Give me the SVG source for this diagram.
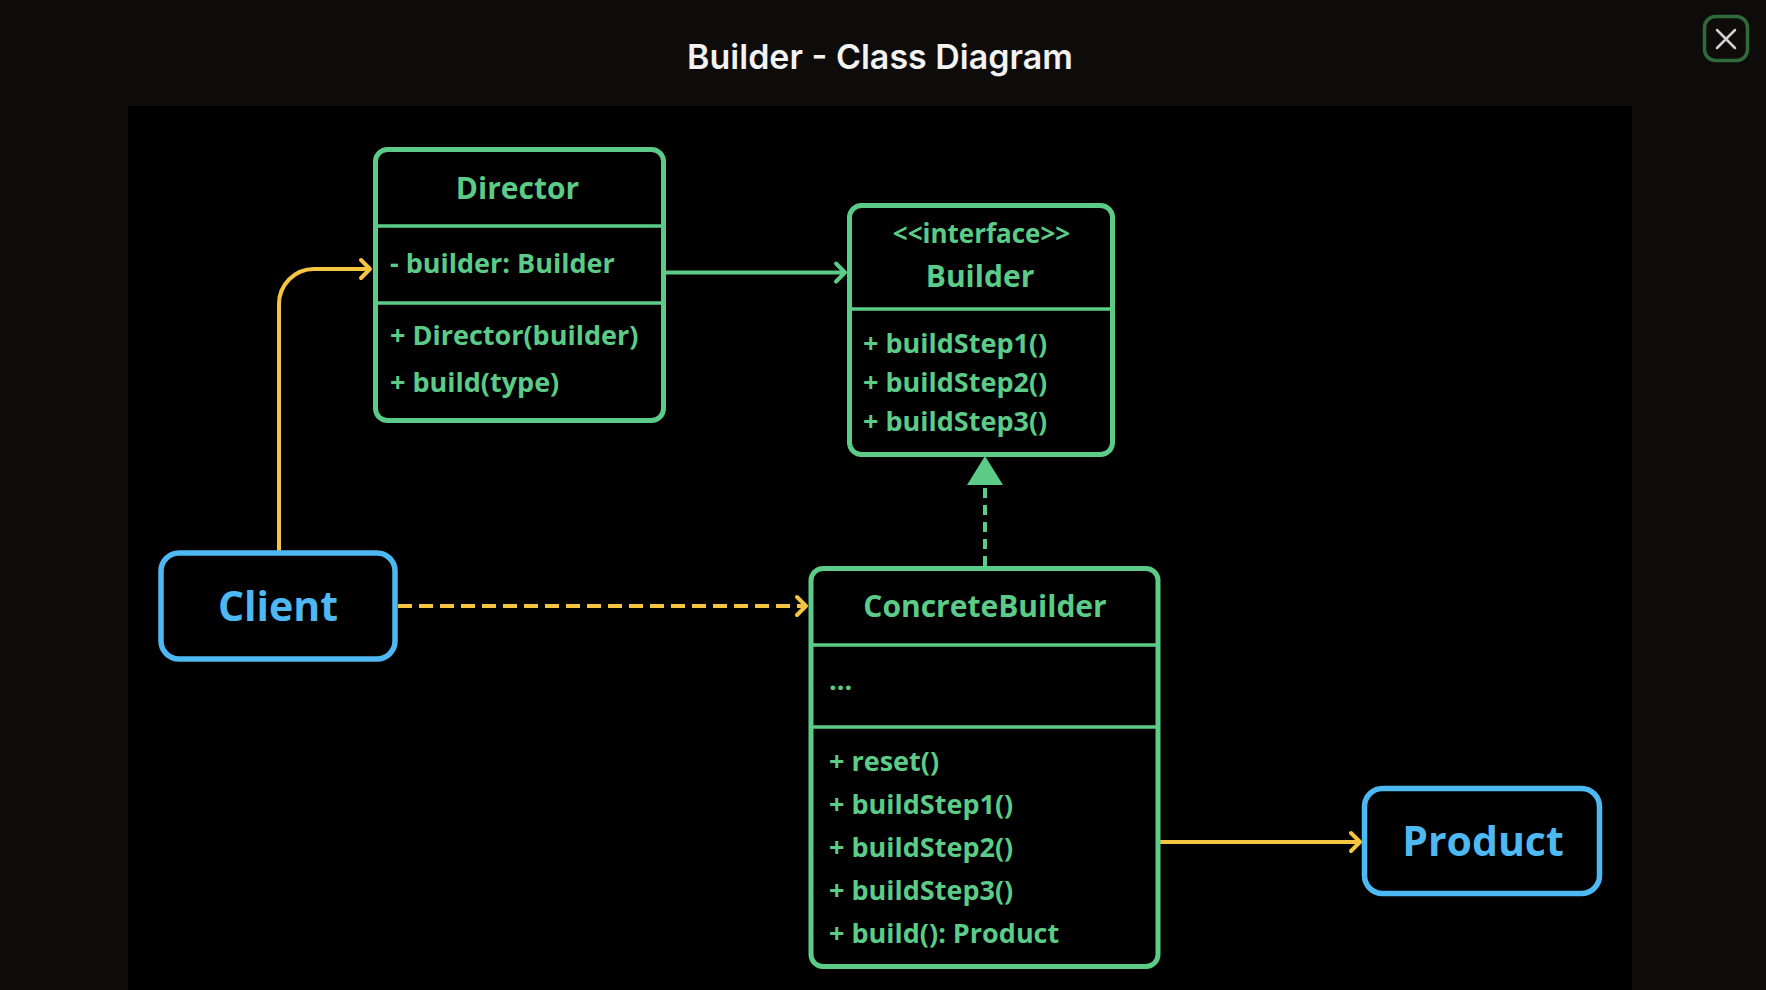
<svg xmlns="http://www.w3.org/2000/svg" width="1766" height="990" viewBox="0 0 1766 990">
<style>
.cls{fill:#000;stroke:#5BCB87;stroke-width:5}
.div{stroke:#5BCB87;stroke-width:3.5}
.ent{fill:#000;stroke:#4DB8F2;stroke-width:5.5}
.t{font-family:"Open Sans","Noto Sans","Liberation Sans",sans-serif;font-weight:700;fill:#5BCB87}
.h{font-size:30px;text-anchor:middle}
.m{font-size:27px}
.st{font-size:26px;text-anchor:middle}
.et{font-family:"Open Sans","Noto Sans","Liberation Sans",sans-serif;font-weight:700;font-size:41px;fill:#4DB8F2;text-anchor:middle}
.y{fill:none;stroke:#F5C542;stroke-width:4}
.g{fill:none;stroke:#5BCB87;stroke-width:4}
</style>
<defs>
<marker id="ay" markerUnits="userSpaceOnUse" markerWidth="16" markerHeight="22" refX="12" refY="11" orient="auto" overflow="visible">
<path d="M3,2 L12,11 L3,20" fill="none" stroke="#F5C542" stroke-width="4" stroke-linecap="round" stroke-linejoin="round"/>
</marker>
<marker id="ag" markerUnits="userSpaceOnUse" markerWidth="16" markerHeight="22" refX="12" refY="11" orient="auto" overflow="visible">
<path d="M3,2 L12,11 L3,20" fill="none" stroke="#5BCB87" stroke-width="4" stroke-linecap="round" stroke-linejoin="round"/>
</marker>
</defs>
<rect x="0" y="0" width="1766" height="990" fill="#0D0C0B"/>
<rect x="128" y="106" width="1504" height="884" fill="#000"/>
<text x="880" y="69" font-family="Inter,'Open Sans',sans-serif" font-weight="600" font-size="34" fill="#F2F2F2" text-anchor="middle">Builder - Class Diagram</text>
<g id="close">
<rect x="1704.5" y="16.5" width="43" height="44" rx="11" fill="#0D0C0B" stroke="#2F6B3A" stroke-width="3.5"/>
<path d="M1717,30 L1735,48 M1735,30 L1717,48" stroke="#D0D0D0" stroke-width="2.5" stroke-linecap="round"/>
</g>
<g id="connectors">
<path class="y" d="M279,553 V304 A35,35 0 0 1 314,269 H370" marker-end="url(#ay)"/>
<path class="g" d="M666,272.5 H845" marker-end="url(#ag)"/>
<path class="g" d="M985,566 V485" stroke-dasharray="10 7"/>
<polygon points="985,456 967,485 1003,485" fill="#5BCB87"/>
<path class="y" d="M398,606 H806" stroke-dasharray="14 7" marker-end="url(#ay)"/>
<path class="y" d="M1160,842 H1360" marker-end="url(#ay)"/>
</g>
<g id="director">
<rect class="cls" x="375.5" y="149.5" width="288" height="271" rx="12"/>
<line class="div" x1="375.5" y1="226" x2="663.5" y2="226"/>
<line class="div" x1="375.5" y1="303" x2="663.5" y2="303"/>
<text class="t h" x="517.5" y="199">Director</text>
<text class="t m" x="390" y="273">- builder: Builder</text>
<text class="t m" x="390" y="345">+ Director(builder)</text>
<text class="t m" x="390" y="392">+ build(type)</text>
</g>
<g id="builder">
<rect class="cls" x="849.5" y="205.5" width="263" height="249" rx="12"/>
<line class="div" x1="849.5" y1="309" x2="1112.5" y2="309"/>
<text class="t st" x="981.5" y="243">&lt;&lt;interface&gt;&gt;</text>
<text class="t h" x="980" y="287">Builder</text>
<text class="t m" x="863" y="353">+ buildStep1()</text>
<text class="t m" x="863" y="392">+ buildStep2()</text>
<text class="t m" x="863" y="431">+ buildStep3()</text>
</g>
<g id="concretebuilder">
<rect class="cls" x="811" y="568.5" width="347" height="398" rx="12"/>
<line class="div" x1="811" y1="645" x2="1158" y2="645"/>
<line class="div" x1="811" y1="727" x2="1158" y2="727"/>
<text class="t h" x="985" y="617">ConcreteBuilder</text>
<text class="t m" x="829" y="690">...</text>
<text class="t m" x="829" y="771">+ reset()</text>
<text class="t m" x="829" y="814">+ buildStep1()</text>
<text class="t m" x="829" y="857">+ buildStep2()</text>
<text class="t m" x="829" y="900">+ buildStep3()</text>
<text class="t m" x="829" y="943">+ build(): Product</text>
</g>
<g id="client">
<rect class="ent" x="161" y="553" width="234" height="106" rx="18"/>
<text class="et" x="278" y="621">Client</text>
</g>
<g id="product">
<rect class="ent" x="1364.5" y="788.5" width="235" height="105" rx="18"/>
<text class="et" x="1483" y="856">Product</text>
</g>
</svg>
